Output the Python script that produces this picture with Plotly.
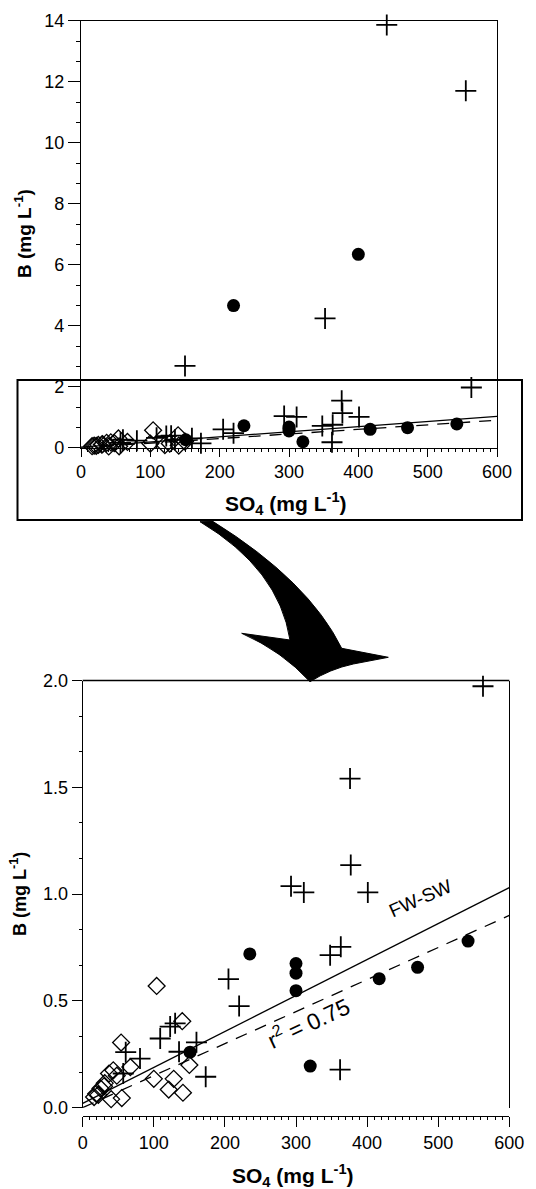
import plotly.graph_objects as go

# ---------------- data ----------------
circle_x = [151, 220, 235, 300, 300, 300, 320, 400, 417, 471, 542]
circle_y = [0.26, 4.66, 0.72, 0.675, 0.63, 0.548, 0.195, 6.34, 0.604, 0.657, 0.78]

cross_x = [57, 60.5, 80.6, 109, 123, 130, 135.5, 150, 160, 173, 205, 220,
           293, 311, 348, 352, 363, 362, 376, 377, 401, 441, 555, 563]
cross_y = [0.16, 0.26, 0.23, 0.324, 0.38, 0.395, 0.262, 2.68, 0.306, 0.145, 0.602, 0.476,
           1.037, 1.008, 0.714, 4.24, 0.753, 0.178, 1.541, 1.136, 1.008, 13.86, 11.7, 1.973]

dia_x = [16, 19, 22, 25, 30, 31, 37, 40, 43, 48, 54, 55, 67, 100, 104, 121, 128, 140, 141, 150]
dia_y = [0.05, 0.065, 0.06, 0.09, 0.1, 0.115, 0.16, 0.04, 0.175, 0.15, 0.305, 0.045,
         0.19, 0.135, 0.57, 0.085, 0.135, 0.405, 0.07, 0.2]

fit_x = [0, 600]
fwsw_y = [0.02, 1.03]      # solid FW-SW mixing line
fit_y = [0.0, 0.90]        # dashed regression line (r2 = 0.75)

top_y_ticks = [0, 2, 4, 6, 8, 10, 12, 14]
bot_y_ticks = [0.0, 0.5, 1.0, 1.5, 2.0]
x_ticks = [0, 100, 200, 300, 400, 500, 600]

# ---------------- helpers ----------------
W, H = 536, 1189
FONT = "Arial, Liberation Sans, sans-serif"


def px(x):
    return x / W


def py(y):
    return 1 - y / H


def pt(x, y):
    return f"{px(x):.5f},{py(y):.5f}"


fig = go.Figure()


def add_panel(xa, ya, keep=None):
    def filt(xs, ys):
        if keep is None:
            return xs, ys
        pairs = [(a, b) for a, b in zip(xs, ys) if b <= keep]
        return [p[0] for p in pairs], [p[1] for p in pairs]

    fig.add_trace(go.Scatter(x=fit_x, y=fwsw_y, mode="lines", xaxis=xa, yaxis=ya,
                             line=dict(color="black", width=1.3), showlegend=False,
                             hoverinfo="skip"))
    fig.add_trace(go.Scatter(x=fit_x, y=fit_y, mode="lines", xaxis=xa, yaxis=ya,
                             line=dict(color="black", width=1.3, dash="12px,9px"),
                             showlegend=False, hoverinfo="skip"))
    dx, dy = filt(dia_x, dia_y)
    fig.add_trace(go.Scatter(x=dx, y=dy, mode="markers", xaxis=xa, yaxis=ya,
                             marker=dict(symbol="diamond-open", size=13, color="black",
                                         line=dict(width=1.3, color="black")),
                             cliponaxis=False, showlegend=False))
    cx, cy = filt(cross_x, cross_y)
    fig.add_trace(go.Scatter(x=cx, y=cy, mode="markers", xaxis=xa, yaxis=ya,
                             marker=dict(symbol="cross-thin-open", size=15, color="black",
                                         line=dict(width=1.8, color="black")),
                             cliponaxis=False, showlegend=False))
    ox, oy = filt(circle_x, circle_y)
    fig.add_trace(go.Scatter(x=ox, y=oy, mode="markers", xaxis=xa, yaxis=ya,
                             marker=dict(symbol="circle", size=13, color="black"),
                             cliponaxis=False, showlegend=False))


add_panel("x", "y")
add_panel("x2", "y2", keep=2.0)

axis_common = dict(showgrid=False, zeroline=False, showline=True, linecolor="black",
                   linewidth=1.3, ticks="outside", tickcolor="black", tickwidth=1.3,
                   automargin=False, tickfont=dict(family=FONT, size=18, color="black"))

fig.update_layout(
    width=W, height=H,
    margin=dict(l=0, r=0, t=0, b=0),
    paper_bgcolor="white", plot_bgcolor="white",
    font=dict(family=FONT, color="black"),
    showlegend=False,
    xaxis=dict(domain=[px(81), px(497)], range=[0, 600], anchor="y", mirror=True,
               tickvals=x_ticks, ticklen=8,
               minor=dict(dtick=10, tick0=0, ticklen=3, ticks="outside",
                          tickcolor="black", tickwidth=1),
               **axis_common),
    yaxis=dict(domain=[py(447.7), py(20.7)], range=[0, 14], anchor="x", mirror=True,
               tickvals=top_y_ticks, ticklen=12,
               minor=dict(dtick=2 / 3, tick0=0, ticklen=4, ticks="outside",
                          tickcolor="black", tickwidth=1),
               **axis_common),
    xaxis2=dict(domain=[px(82.7), px(509.3)], range=[0, 600], anchor="free",
                position=py(1116), mirror=False, tickvals=x_ticks, ticklen=10,
                minor=dict(dtick=10, tick0=0, ticklen=3, ticks="outside",
                           tickcolor="black", tickwidth=1),
                **axis_common),
    yaxis2=dict(domain=[py(1107.7), py(680.5)], range=[0, 2], anchor="x2", mirror=True,
                tickvals=bot_y_ticks, tickformat=".1f", ticklen=10,
                minor=dict(dtick=1 / 6, tick0=0, ticklen=3, ticks="outside",
                           tickcolor="black", tickwidth=1),
                **axis_common),
)

# top border of lower panel (x axis there is offset below the plot)
fig.add_shape(type="line", xref="paper", yref="paper",
              x0=px(82.7), x1=px(509.3), y0=py(680.5), y1=py(680.5),
              line=dict(color="black", width=1.3))

# zoom rectangle on the upper panel
fig.add_shape(type="rect", xref="paper", yref="paper",
              x0=px(17.5), x1=px(522), y0=py(520), y1=py(380),
              line=dict(color="black", width=2), layer="above")

# curved arrow
path = ("M " + pt(200, 521.7) +
        " Q " + pt(279, 569) + " " + pt(290, 640) +
        " L " + pt(241.7, 633.3) +
        " Q " + pt(282, 651) + " " + pt(310, 681.7) +
        " Q " + pt(330, 669) + " " + pt(353.3, 664) +
        " L " + pt(388.3, 657.3) +
        " L " + pt(341.7, 648.3) +
        " Q " + pt(308.7, 581) + " " + pt(213, 521.5) + " Z")
fig.add_shape(type="path", xref="paper", yref="paper", path=path,
              fillcolor="black", line=dict(color="black", width=1), layer="above")


def ann(x, y, text, size, angle=0, bold=False):
    t = f"<b>{text}</b>" if bold else text
    fig.add_annotation(xref="paper", yref="paper", x=px(x), y=py(y), text=t,
                       showarrow=False, textangle=angle, xanchor="center",
                       yanchor="middle", font=dict(family=FONT, size=size, color="black"))


ann(23, 234, "B (mg L<sup>-1</sup>)", 19, -90, True)
ann(286, 503, "SO<sub>4</sub> (mg L<sup>-1</sup>)", 21, 0, True)
ann(18, 894, "B (mg L<sup>-1</sup>)", 18, -90, True)
ann(293, 1175, "SO<sub>4</sub> (mg L<sup>-1</sup>)", 21, 0, True)
ann(420, 898, "FW-SW", 19, -24)
ann(308, 1021.5, "r<sup>2</sup> = 0.75", 23, -25)

fig.write_html("out.html", config={"displayModeBar": False},
               post_script="document.body.style.margin='0px';"
                           "document.body.style.overflow='hidden';")
